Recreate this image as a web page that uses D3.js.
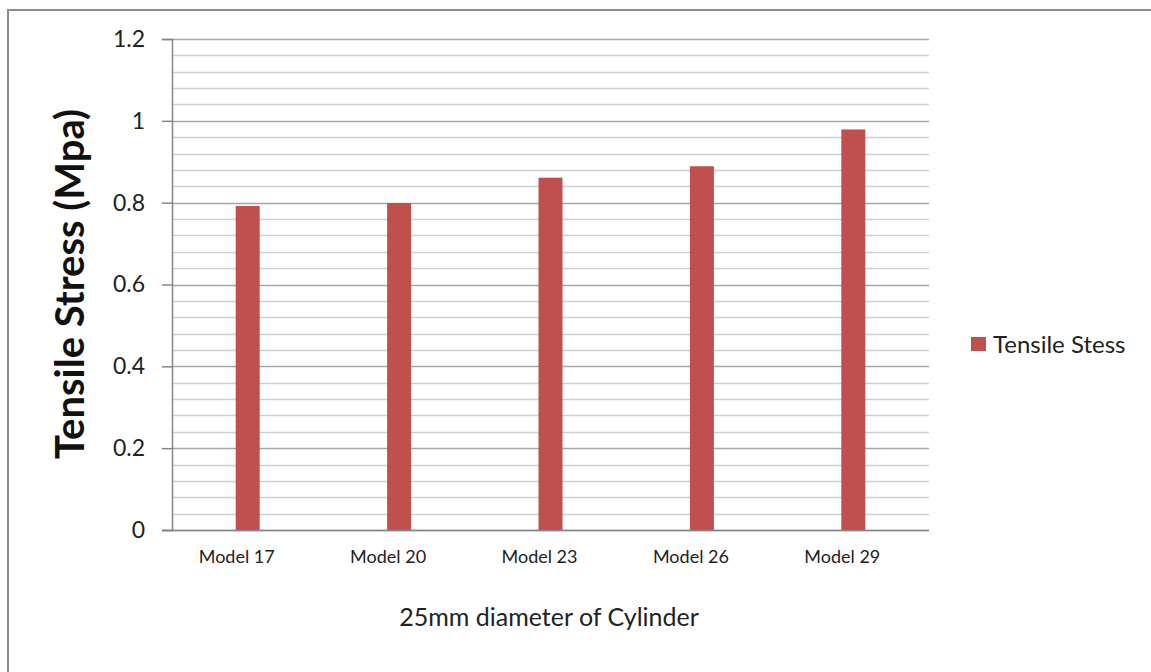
<!DOCTYPE html>
<html><head><meta charset="utf-8">
<script src="https://cdn.jsdelivr.net/npm/d3@7/dist/d3.min.js"></script>
<style>body{margin:0;background:#fff;} svg{display:block;font-family:Lato,"Open Sans",sans-serif;}</style>
</head><body>
<script>
const categories = ["Model 17","Model 20","Model 23","Model 26","Model 29"];
const values = [0.792, 0.799, 0.861, 0.889, 0.979];
const yTicks = [0, 0.2, 0.4, 0.6, 0.8, 1, 1.2];
const seriesName = "Tensile Stess";

const W = 1151, H = 672;
const svg = d3.select("body").append("svg").attr("width", W).attr("height", H);
svg.append("rect").attr("x", 8).attr("y", 10).attr("width", W + 20).attr("height", H + 20)
  .attr("fill", "#fff").attr("stroke", "#8c8c8c").attr("stroke-width", 2);

const L = 172, R = 929, T = 39, B = 530;
const x = d3.scaleBand().domain(categories).range([L, R]);
const y = d3.scaleLinear().domain([0, 1.2]).range([B, T]);

const minor = d3.range(0, 1.2001, 0.04);
svg.append("g").selectAll("line").data(minor).join("line")
  .attr("x1", L).attr("x2", R).attr("y1", d => Math.round(y(d)) + 0.5).attr("y2", d => Math.round(y(d)) + 0.5)
  .attr("stroke", d => (Math.abs(d / 0.2 - Math.round(d / 0.2)) < 1e-6) ? "#a6a6a6" : "#cfcfcf")
  .attr("stroke-width", 1.5);

svg.append("g").selectAll("rect").data(values).join("rect")
  .attr("x", (d, i) => x(categories[i]) + x.bandwidth() / 2 - 12)
  .attr("width", 24)
  .attr("y", d => y(d)).attr("height", d => y(0) - y(d))
  .attr("fill", "#c0504d");

const yAxis = svg.append("g").attr("transform", `translate(${L},0)`)
  .call(d3.axisLeft(y).tickValues(yTicks).tickSize(10).tickPadding(17).tickFormat(d => String(+d.toFixed(1))));
yAxis.select(".domain").attr("stroke", "#868686").attr("stroke-width", 1.5);
yAxis.selectAll(".tick line").attr("stroke", "#868686").attr("stroke-width", 1.5);
yAxis.selectAll(".tick text").attr("font-size", 23).attr("fill", "#222").attr("font-family", "Lato,sans-serif");

svg.append("line").attr("x1", L - 10).attr("x2", R).attr("y1", B + 0.5).attr("y2", B + 0.5)
  .attr("stroke", "#868686").attr("stroke-width", 1.5);

svg.append("g").selectAll("text").data(categories).join("text")
  .attr("x", d => x(d) + x.bandwidth() / 2 - 11).attr("y", 563)
  .attr("text-anchor", "middle").attr("font-size", 18).attr("fill", "#222").text(d => d);

svg.append("text").attr("x", 549).attr("y", 626).attr("text-anchor", "middle")
  .attr("font-size", 25).attr("fill", "#222").text("25mm diameter of Cylinder");

svg.append("text").attr("transform", "translate(84,284) rotate(-90)").attr("text-anchor", "middle")
  .attr("font-size", 40).attr("font-weight", "bold").attr("fill", "#111").text("Tensile Stress (Mpa)");

svg.append("rect").attr("x", 971).attr("y", 337).attr("width", 15).attr("height", 14).attr("fill", "#c0504d");
svg.append("text").attr("x", 993).attr("y", 353).attr("font-size", 24).attr("fill", "#222").text(seriesName);
</script>
</body></html>
